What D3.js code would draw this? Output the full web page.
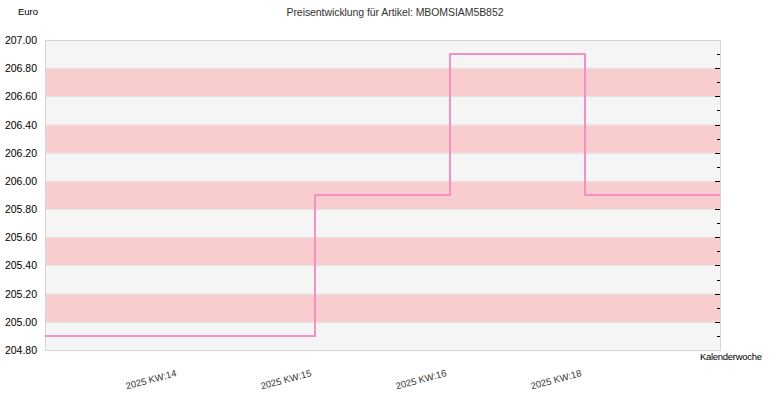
<!DOCTYPE html>
<html>
<head>
<meta charset="utf-8">
<script src="https://cdn.jsdelivr.net/npm/d3@7"></script>
<style>
  html, body { margin: 0; padding: 0; background: #fff; }
  svg { display: block; font-family: "Liberation Sans", Arial, sans-serif; }
</style>
</head>
<body>
<svg id="chart" width="770" height="400"></svg>
<script>
/* =======================
   DATA
======================= */
const title = "Preisentwicklung für Artikel: MBOMSIAM5B852";
const weekLabels = ["2025 KW:14", "2025 KW:15", "2025 KW:16", "2025 KW:18"];
const weekPos = [1, 2, 3, 4];
// step values at x positions 0..5
const pricePos = [0, 1, 2, 3, 4, 5];
const prices = [204.9, 204.9, 205.9, 206.9, 205.9, 205.9];
const yTicks = [204.8, 205.0, 205.2, 205.4, 205.6, 205.8, 206.0, 206.2, 206.4, 206.6, 206.8, 207.0];
const yMinorTicks = [204.9, 205.1, 205.3, 205.5, 205.7, 205.9, 206.1, 206.3, 206.5, 206.7, 206.9];

/* =======================
   CHART
======================= */
const margin = { top: 40, right: 50, bottom: 50, left: 45 };
const W = 770, H = 400;
const svg = d3.select("#chart");

const x = d3.scaleLinear().domain([0, 5]).range([margin.left, W - margin.right]);
const y = d3.scaleLinear().domain([204.8, 207.0]).range([H - margin.bottom, margin.top]);

// plot background
svg.append("rect")
    .attr("x", x(0)).attr("y", y(207))
    .attr("width", x(5) - x(0)).attr("height", y(204.8) - y(207))
    .attr("fill", "#f5f5f5");

// alternating bands
const bands = d3.pairs(yTicks).filter((d, i) => i % 2 === 1);
svg.append("g").selectAll("rect").data(bands).join("rect")
    .attr("x", x(0))
    .attr("y", d => y(d[1]))
    .attr("width", x(5) - x(0))
    .attr("height", d => y(d[0]) - y(d[1]))
    .attr("fill", "#f9cdcd");

// grid lines
svg.append("g").selectAll("line").data(yTicks.slice(1, -1)).join("line")
    .attr("x1", x(0)).attr("x2", x(5))
    .attr("y1", d => Math.round(y(d)) + 0.5).attr("y2", d => Math.round(y(d)) + 0.5)
    .attr("stroke", "#e2e2e2");

// border
svg.append("rect")
    .attr("x", x(0) + 0.5).attr("y", y(207) + 0.5)
    .attr("width", x(5) - x(0)).attr("height", y(204.8) - y(207))
    .attr("fill", "none").attr("stroke", "#d6d6d6");

// right side tick marks
svg.append("g").selectAll("line").data(yTicks.slice(1, -1)).join("line")
    .attr("x1", x(5) - 5).attr("x2", x(5))
    .attr("y1", d => Math.round(y(d)) + 0.5).attr("y2", d => Math.round(y(d)) + 0.5)
    .attr("stroke", "#000");
svg.append("g").selectAll("line").data(yMinorTicks).join("line")
    .attr("x1", x(5) - 3).attr("x2", x(5))
    .attr("y1", d => Math.round(y(d)) + 0.5).attr("y2", d => Math.round(y(d)) + 0.5)
    .attr("stroke", "#000");

// y labels
svg.append("g").selectAll("text").data(yTicks).join("text")
    .attr("x", 37)
    .attr("y", d => y(d) + 4)
    .attr("text-anchor", "end")
    .attr("font-size", 10.5)
    .attr("fill", "#000")
    .text(d => d.toFixed(2));

// x labels
svg.append("g").selectAll("text").data(weekPos).join("text")
    .attr("text-anchor", "end")
    .attr("font-size", 9.5)
    .attr("fill", "#333")
    .attr("transform", d => `translate(${x(d) - 3},${y(204.8) + 26}) rotate(-15)`)
    .text((d, i) => weekLabels[i]);

// step line
const line = d3.line()
    .x((d, i) => x(pricePos[i]))
    .y(d => y(d))
    .curve(d3.curveStepAfter);

svg.append("path")
    .datum(prices)
    .attr("d", line)
    .attr("fill", "none")
    .attr("stroke", "#f78fc3")
    .attr("stroke-width", 2);

// titles
svg.append("text")
    .attr("x", 395).attr("y", 16)
    .attr("text-anchor", "middle")
    .attr("font-size", 10.5)
    .attr("fill", "#333")
    .attr("textLength", 217)
    .text(title);

svg.append("text")
    .attr("x", 38).attr("y", 15)
    .attr("text-anchor", "end")
    .attr("font-size", 9.5)
    .attr("fill", "#000")
    .text("Euro");

svg.append("text")
    .attr("x", 762).attr("y", 360)
    .attr("text-anchor", "end")
    .attr("font-size", 9.5)
    .attr("fill", "#000")
    .attr("textLength", 62)
    .text("Kalenderwoche");
</script>
</body>
</html>
